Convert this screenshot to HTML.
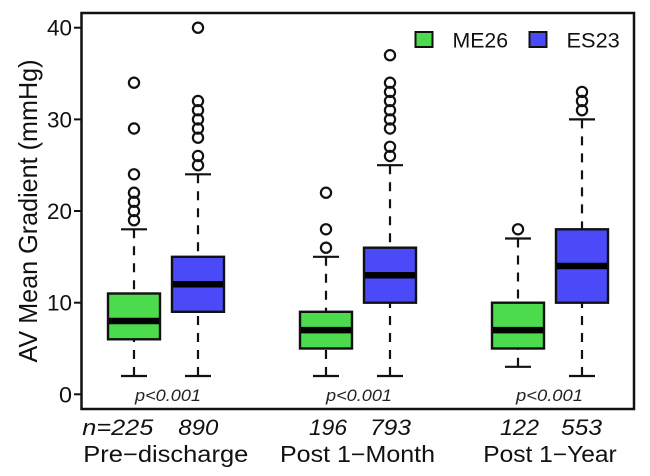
<!DOCTYPE html>
<html>
<head>
<meta charset="utf-8">
<style>
  html, body { margin: 0; padding: 0; background: #ffffff; }
  svg { display: block; }
  text { font-family: "Liberation Sans", Arial, sans-serif; }
</style>
</head>
<body>
<svg width="650" height="476" viewBox="0 0 650 476" xmlns="http://www.w3.org/2000/svg">
  <rect x="0" y="0" width="650" height="476" fill="#ffffff"/>

  <!-- Y axis label -->
  <text x="-151.5" y="0" font-size="26" fill="#111" textLength="303" lengthAdjust="spacingAndGlyphs" transform="translate(37,211) rotate(-90)">AV Mean Gradient (mmHg)</text>

  <!-- Y ticks -->
  <g stroke="#111" stroke-width="2">
    <line x1="74" y1="394.3" x2="82" y2="394.3"/>
    <line x1="74" y1="302.7" x2="82" y2="302.7"/>
    <line x1="74" y1="211.0" x2="82" y2="211.0"/>
    <line x1="74" y1="119.4" x2="82" y2="119.4"/>
    <line x1="74" y1="27.7" x2="82" y2="27.7"/>
  </g>
  <g font-size="22" fill="#111">
    <text x="59" y="402.3" textLength="13" lengthAdjust="spacingAndGlyphs">0</text>
    <text x="47" y="310.7" textLength="25" lengthAdjust="spacingAndGlyphs">10</text>
    <text x="47" y="219.0" textLength="25" lengthAdjust="spacingAndGlyphs">20</text>
    <text x="47" y="127.4" textLength="25" lengthAdjust="spacingAndGlyphs">30</text>
    <text x="47" y="35.7" textLength="25" lengthAdjust="spacingAndGlyphs">40</text>
  </g>

  <!-- Whiskers (dashed) -->
  <g stroke="#111" stroke-width="2.2" stroke-dasharray="9 8" fill="none">
    <line x1="134" y1="376.0" x2="134" y2="339.3"/>
    <line x1="134" y1="229.3" x2="134" y2="293.5"/>
    <line x1="198" y1="376.0" x2="198" y2="311.8"/>
    <line x1="198" y1="174.3" x2="198" y2="256.8"/>
    <line x1="326" y1="376.0" x2="326" y2="348.5"/>
    <line x1="326" y1="256.8" x2="326" y2="311.8"/>
    <line x1="390" y1="376.0" x2="390" y2="302.7"/>
    <line x1="390" y1="165.2" x2="390" y2="247.7"/>
    <line x1="518" y1="366.8" x2="518" y2="348.5"/>
    <line x1="518" y1="238.5" x2="518" y2="302.7"/>
    <line x1="582" y1="376.0" x2="582" y2="302.7"/>
    <line x1="582" y1="119.4" x2="582" y2="229.3"/>
  </g>

  <!-- Caps -->
  <g stroke="#111" stroke-width="2.2">
    <line x1="121" y1="376.0" x2="147" y2="376.0"/>
    <line x1="121" y1="229.3" x2="147" y2="229.3"/>
    <line x1="185" y1="376.0" x2="211" y2="376.0"/>
    <line x1="185" y1="174.3" x2="211" y2="174.3"/>
    <line x1="313" y1="376.0" x2="339" y2="376.0"/>
    <line x1="313" y1="256.8" x2="339" y2="256.8"/>
    <line x1="377" y1="376.0" x2="403" y2="376.0"/>
    <line x1="377" y1="165.2" x2="403" y2="165.2"/>
    <line x1="505" y1="366.8" x2="531" y2="366.8"/>
    <line x1="505" y1="238.5" x2="531" y2="238.5"/>
    <line x1="569" y1="376.0" x2="595" y2="376.0"/>
    <line x1="569" y1="119.4" x2="595" y2="119.4"/>
  </g>

  <!-- Boxes -->
  <g stroke="#111" stroke-width="2.4">
    <rect x="108" y="293.5" width="52" height="45.8" fill="#4cdb4c"/>
    <rect x="172" y="256.8" width="52" height="55.0" fill="#4a4af8"/>
    <rect x="300" y="311.8" width="52" height="36.7" fill="#4cdb4c"/>
    <rect x="364" y="247.7" width="52" height="55.0" fill="#4a4af8"/>
    <rect x="492" y="302.7" width="52" height="45.8" fill="#4cdb4c"/>
    <rect x="556" y="229.3" width="52" height="73.4" fill="#4a4af8"/>
  </g>

  <!-- Medians -->
  <g stroke="#000" stroke-width="6.5">
    <line x1="109" y1="321.0" x2="159" y2="321.0"/>
    <line x1="173" y1="284.3" x2="223" y2="284.3"/>
    <line x1="301" y1="330.1" x2="351" y2="330.1"/>
    <line x1="365" y1="275.2" x2="415" y2="275.2"/>
    <line x1="493" y1="330.1" x2="543" y2="330.1"/>
    <line x1="557" y1="266.0" x2="607" y2="266.0"/>
  </g>

  <!-- Outliers -->
  <g stroke="#111" stroke-width="2.2" fill="none">
    <circle cx="134" cy="220.2" r="5.1"/>
    <circle cx="134" cy="211.0" r="5.1"/>
    <circle cx="134" cy="201.8" r="5.1"/>
    <circle cx="134" cy="192.7" r="5.1"/>
    <circle cx="134" cy="174.3" r="5.1"/>
    <circle cx="134" cy="128.5" r="5.1"/>
    <circle cx="134" cy="82.7" r="5.1"/>
    <circle cx="198" cy="165.2" r="5.1"/>
    <circle cx="198" cy="156.0" r="5.1"/>
    <circle cx="198" cy="137.7" r="5.1"/>
    <circle cx="198" cy="128.5" r="5.1"/>
    <circle cx="198" cy="119.4" r="5.1"/>
    <circle cx="198" cy="110.2" r="5.1"/>
    <circle cx="198" cy="101.0" r="5.1"/>
    <circle cx="198" cy="27.7" r="5.1"/>
    <circle cx="326" cy="247.7" r="5.1"/>
    <circle cx="326" cy="229.3" r="5.1"/>
    <circle cx="326" cy="192.7" r="5.1"/>
    <circle cx="390" cy="156.0" r="5.1"/>
    <circle cx="390" cy="146.8" r="5.1"/>
    <circle cx="390" cy="128.5" r="5.1"/>
    <circle cx="390" cy="119.4" r="5.1"/>
    <circle cx="390" cy="110.2" r="5.1"/>
    <circle cx="390" cy="101.0" r="5.1"/>
    <circle cx="390" cy="91.9" r="5.1"/>
    <circle cx="390" cy="82.7" r="5.1"/>
    <circle cx="390" cy="55.2" r="5.1"/>
    <circle cx="518" cy="229.3" r="5.1"/>
    <circle cx="582" cy="110.2" r="5.1"/>
    <circle cx="582" cy="101.0" r="5.1"/>
    <circle cx="582" cy="91.9" r="5.1"/>
  </g>

  <!-- p-values -->
  <g font-size="17" font-style="italic" fill="#222">
    <text x="135" y="401" textLength="66" lengthAdjust="spacingAndGlyphs">p&lt;0.001</text>
    <text x="326" y="401" textLength="66" lengthAdjust="spacingAndGlyphs">p&lt;0.001</text>
    <text x="516" y="401" textLength="67" lengthAdjust="spacingAndGlyphs">p&lt;0.001</text>
  </g>

  <!-- Plot frame -->
  <rect x="81.5" y="13" width="552.5" height="396" fill="none" stroke="#111" stroke-width="2.5"/>

  <!-- Legend -->
  <rect x="415.5" y="32" width="17" height="15" fill="#4cdb4c" stroke="#111" stroke-width="2"/>
  <text x="452.5" y="47.5" font-size="21" fill="#111" textLength="55.6" lengthAdjust="spacingAndGlyphs">ME26</text>
  <rect x="529.5" y="32" width="17" height="15" fill="#4a4af8" stroke="#111" stroke-width="2"/>
  <text x="566.5" y="47.5" font-size="21" fill="#111" textLength="53.3" lengthAdjust="spacingAndGlyphs">ES23</text>

  <!-- n labels -->
  <g font-size="22" font-style="italic" fill="#111">
    <text x="82.3" y="435" textLength="71" lengthAdjust="spacingAndGlyphs">n=225</text>
    <text x="178.3" y="435" textLength="40" lengthAdjust="spacingAndGlyphs">890</text>
    <text x="309" y="435" textLength="38" lengthAdjust="spacingAndGlyphs">196</text>
    <text x="370" y="435" textLength="41" lengthAdjust="spacingAndGlyphs">793</text>
    <text x="500" y="435" textLength="39" lengthAdjust="spacingAndGlyphs">122</text>
    <text x="561" y="435" textLength="41" lengthAdjust="spacingAndGlyphs">553</text>
  </g>

  <!-- Group labels -->
  <g font-size="23" fill="#111">
    <text x="83.3" y="462" textLength="165" lengthAdjust="spacingAndGlyphs">Pre−discharge</text>
    <text x="280" y="462" textLength="155" lengthAdjust="spacingAndGlyphs">Post 1−Month</text>
    <text x="483.3" y="462" textLength="133.4" lengthAdjust="spacingAndGlyphs">Post 1−Year</text>
  </g>
</svg>
</body>
</html>
